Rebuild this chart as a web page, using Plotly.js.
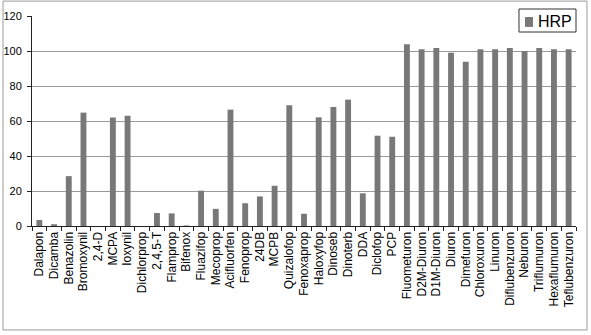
<!DOCTYPE html>
<html>
<head>
<meta charset="utf-8">
<script src="https://cdn.plot.ly/plotly-3.0.1.min.js"></script>
<style>
html,body{margin:0;padding:0;background:#fff;}
#chart{width:591px;height:335px;}
</style>
</head>
<body>
<div id="chart"></div>
<script>
const categories = ["Dalapon","Dicamba","Benazolin","Bromoxynil","2,4-D","MCPA","Ioxynil","Dichlorprop","2,4,5-T","Flamprop","Bifenox","Fluazifop","Mecoprop","Acifluorfen","Fenoprop","24DB","MCPB","Quizalofop","Fenoxaprop","Haloxyfop","Dinoseb","Dinoterb","DDA","Diclofop","PCP","Fluometuron","D2M-Diuron","D1M-Diuron","Diuron","Dimefuron","Chloroxuron","Linuron","Diflubenzuron","Neburon","Triflumuron","Hexaflumuron","Teflubenzuron"];
const hrp = [3.4,1,28.5,64.8,0,62,63,0,7.4,7.2,0.3,20.2,9.8,66.5,13,16.9,23,69,7,62.1,68,72.2,18.7,51.6,51,103.8,101,101.7,99,93.9,101,101,101.7,100,101.7,101,101];
const seriesName = "HRP";
const yTicks = [0,20,40,60,80,100,120];
const barColor = "#787878";

const trace = {
  type: "bar",
  name: seriesName,
  x: categories,
  y: hrp,
  marker: {color: barColor, line: {width: 0}},
  showlegend: false
};

const layout = {
  width: 591,
  height: 335,
  margin: {l: 32, r: 15, t: 16, b: 109, pad: 0},
  paper_bgcolor: "#ffffff",
  plot_bgcolor: "#ffffff",
  font: {family: "Liberation Sans, Arial, sans-serif", color: "#000000"},
  bargap: 0.6,
  showlegend: false,
  xaxis: {
    type: "category",
    tickangle: -90,
    tickfont: {size: 12, color: "#000000"},
    showline: true, linecolor: "#222222", linewidth: 1,
    ticks: "outside", ticklen: 4, tickcolor: "#222222", tickson: "boundaries",
    showgrid: false, zeroline: false, fixedrange: true
  },
  yaxis: {
    range: [0, 120],
    tickvals: yTicks,
    tickfont: {size: 11, color: "#000000"},
    showline: true, linecolor: "#222222", linewidth: 1,
    ticks: "outside", ticklen: 4, tickcolor: "#222222",
    ticklabelstandoff: 3,
    showgrid: true, gridcolor: "#9a9a9a", gridwidth: 1,
    zeroline: false, fixedrange: true
  },
  shapes: [
    {type: "rect", xref: "paper", yref: "paper",
     x0: -0.0533, x1: 1.0202, y0: -0.495, y1: 1.071,
     line: {color: "#9a9a9a", width: 1}, fillcolor: "rgba(0,0,0,0)", layer: "below"},
    {type: "rect", xref: "paper", yref: "paper",
     x0: 0.8952, x1: 1.0, y0: 0.9238, y1: 1.0333,
     line: {color: "#333333", width: 1}, fillcolor: "#ffffff", layer: "above"},
    {type: "rect", xref: "paper", yref: "paper",
     x0: 0.9063, x1: 0.9210, y0: 0.948, y1: 0.995,
     line: {width: 0}, fillcolor: barColor, layer: "above"}
  ],
  annotations: [
    {xref: "paper", yref: "paper", x: 0.9265, y: 0.9715, xanchor: "left", yanchor: "middle",
     text: seriesName, showarrow: false, font: {size: 16, color: "#000000"}}
  ]
};

Plotly.newPlot("chart", [trace], layout, {displayModeBar: false, staticPlot: true});
</script>
</body>
</html>
